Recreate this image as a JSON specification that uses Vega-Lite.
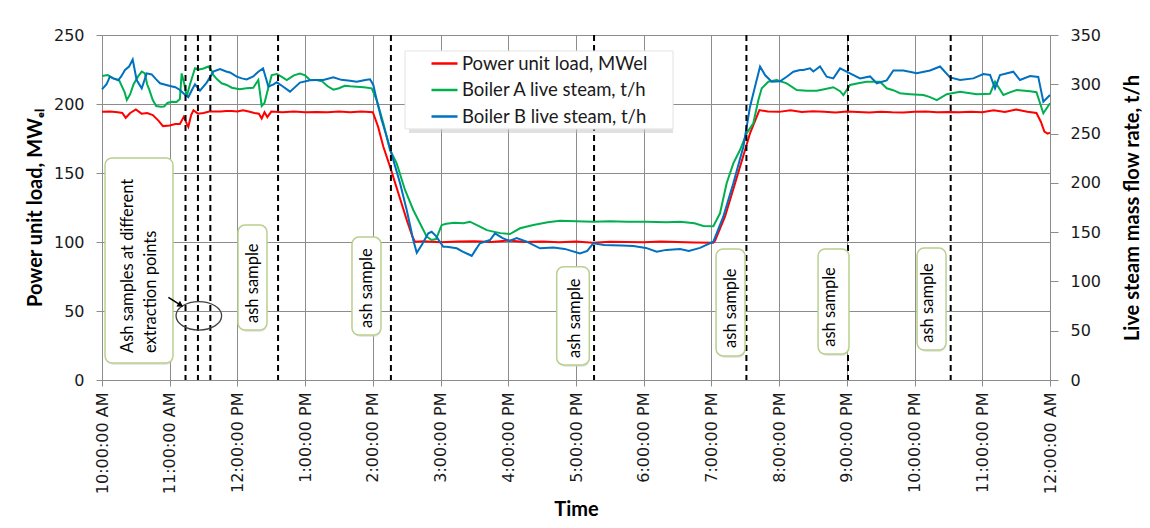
{
"$schema":"https://vega.github.io/schema/vega-lite/v6.json",
"width":948,"height":345,
"autosize":{"type":"none"},
"padding":{"left":102,"top":35,"right":100,"bottom":148},
"background":"white",
"config":{
"view":{"stroke":null},
"axis":{"gridColor":"#8c8c8c","gridWidth":1,"domainColor":"#8c8c8c","tickColor":"#8c8c8c","labelFont":"DejaVu Sans","labelFontSize":16,"labelColor":"#1a1a1a","titleFont":"Lato","titleFontWeight":"bold","titleFontSize":20,"titleColor":"#000000"}
},
"datasets":{
"load":[
{"minute":0,"value":194.4},{"minute":7,"value":194.5},{"minute":14,"value":194},{"minute":18,"value":193.5},{"minute":21,"value":190},{"minute":25,"value":193.5},{"minute":30,"value":196},{"minute":35,"value":193},{"minute":40,"value":193.5},{"minute":45,"value":192},{"minute":50,"value":188},{"minute":54,"value":184},{"minute":60,"value":184.5},{"minute":65,"value":185.5},{"minute":69,"value":185.5},{"minute":71,"value":188.5},{"minute":72.5,"value":190.8},{"minute":75,"value":186},{"minute":76.5,"value":183.5},{"minute":79,"value":192},{"minute":81,"value":195.5},{"minute":85,"value":193},{"minute":90,"value":193.5},{"minute":95,"value":194.5},{"minute":100,"value":194.5},{"minute":105,"value":194.5},{"minute":110,"value":195},{"minute":115,"value":195},{"minute":120,"value":194.5},{"minute":125,"value":195.5},{"minute":130,"value":194.5},{"minute":135,"value":193.5},{"minute":139,"value":193},{"minute":141.5,"value":189.5},{"minute":144,"value":194},{"minute":146.5,"value":190.5},{"minute":150,"value":194.5},{"minute":160,"value":194},{"minute":170,"value":194.5},{"minute":180,"value":194},{"minute":190,"value":194.2},{"minute":200,"value":194},{"minute":210,"value":194.5},{"minute":220,"value":194},{"minute":230,"value":194.5},{"minute":240,"value":194},{"minute":244.6,"value":183.6},{"minute":249.3,"value":169},{"minute":255.2,"value":154.6},{"minute":262.6,"value":135.3},{"minute":270,"value":116},{"minute":275,"value":104},{"minute":277.3,"value":100.2},{"minute":285,"value":100.5},{"minute":300,"value":99.8},{"minute":315,"value":100.3},{"minute":330,"value":100.6},{"minute":345,"value":100},{"minute":360,"value":101},{"minute":375,"value":100},{"minute":390,"value":100.4},{"minute":405,"value":99.8},{"minute":420,"value":100.3},{"minute":435,"value":99.5},{"minute":450,"value":100.2},{"minute":465,"value":100},{"minute":480,"value":99.8},{"minute":495,"value":100.4},{"minute":510,"value":100},{"minute":525,"value":99.7},{"minute":541.7,"value":99.5},{"minute":543.2,"value":101},{"minute":552,"value":118.3},{"minute":560.9,"value":142.5},{"minute":569.8,"value":166.7},{"minute":574.2,"value":178.8},{"minute":582.5,"value":195.6},{"minute":590,"value":194.5},{"minute":600,"value":194.3},{"minute":610,"value":195.5},{"minute":620,"value":194.2},{"minute":630,"value":194.8},{"minute":640,"value":194.4},{"minute":650,"value":193.8},{"minute":660,"value":194.5},{"minute":670,"value":194.2},{"minute":680,"value":193.8},{"minute":690,"value":194.4},{"minute":700,"value":194},{"minute":710,"value":193.9},{"minute":720,"value":194.3},{"minute":730,"value":194.5},{"minute":740,"value":194},{"minute":750,"value":194.2},{"minute":760,"value":194.1},{"minute":770,"value":194.3},{"minute":780,"value":194},{"minute":790,"value":195.5},{"minute":800,"value":194.2},{"minute":810,"value":196},{"minute":820,"value":194.4},{"minute":828,"value":193.5},{"minute":832,"value":187},{"minute":835,"value":180},{"minute":838,"value":178.5},{"minute":840,"value":179.2}
],
"boilerA":[
{"minute":0,"value":308.4},{"minute":5,"value":309.4},{"minute":10,"value":306},{"minute":15,"value":304.5},{"minute":20,"value":292},{"minute":22,"value":284},{"minute":25,"value":290},{"minute":28,"value":300},{"minute":32,"value":308},{"minute":35.2,"value":312.8},{"minute":38,"value":311},{"minute":40,"value":300},{"minute":42,"value":294},{"minute":45,"value":284},{"minute":48,"value":278},{"minute":52,"value":277.3},{"minute":55,"value":277.5},{"minute":58,"value":281},{"minute":62,"value":282.3},{"minute":66,"value":282},{"minute":69,"value":285},{"minute":70.6,"value":311},{"minute":73,"value":300},{"minute":75,"value":287.4},{"minute":78,"value":300},{"minute":82.4,"value":316.2},{"minute":86,"value":315},{"minute":90,"value":316},{"minute":94.2,"value":318},{"minute":97,"value":314},{"minute":98.6,"value":309.4},{"minute":102,"value":305},{"minute":106,"value":301},{"minute":110.5,"value":299.3},{"minute":115,"value":296.5},{"minute":122,"value":295},{"minute":128,"value":296},{"minute":134,"value":296.5},{"minute":138.5,"value":304.3},{"minute":141.5,"value":278},{"minute":144,"value":281},{"minute":145.9,"value":290},{"minute":150.4,"value":309.4},{"minute":155,"value":310.5},{"minute":160,"value":307},{"minute":163.7,"value":304.3},{"minute":170,"value":309},{"minute":175.4,"value":311},{"minute":180,"value":309},{"minute":184.3,"value":304.3},{"minute":190,"value":304.3},{"minute":195,"value":303},{"minute":200,"value":298},{"minute":205,"value":294.5},{"minute":210,"value":296},{"minute":215,"value":298.5},{"minute":219.8,"value":298},{"minute":225.7,"value":297.6},{"minute":232,"value":297},{"minute":239,"value":295.9},{"minute":243.4,"value":284},{"minute":249.3,"value":260.4},{"minute":255.2,"value":233.3},{"minute":261.1,"value":219.8},{"minute":268.5,"value":192.8},{"minute":275.8,"value":172.5},{"minute":283.3,"value":155.5},{"minute":287.7,"value":145.4},{"minute":292.1,"value":142},{"minute":296,"value":143},{"minute":301,"value":157.2},{"minute":305,"value":158.5},{"minute":312,"value":159.5},{"minute":320.2,"value":159},{"minute":326,"value":160.6},{"minute":334.9,"value":155.5},{"minute":341,"value":152},{"minute":346.7,"value":150.5},{"minute":353,"value":149},{"minute":361.5,"value":148.1},{"minute":370.4,"value":153.9},{"minute":382.2,"value":157.2},{"minute":395,"value":160},{"minute":405.8,"value":161.6},{"minute":420,"value":161},{"minute":435.3,"value":160.6},{"minute":450,"value":161},{"minute":465,"value":160.5},{"minute":482.7,"value":160.6},{"minute":500,"value":160},{"minute":512.2,"value":160.6},{"minute":525,"value":159},{"minute":532.8,"value":156.2},{"minute":541.7,"value":156},{"minute":547.6,"value":169.1},{"minute":553.5,"value":199.6},{"minute":559.4,"value":219.8},{"minute":565.3,"value":233.3},{"minute":571.3,"value":250.3},{"minute":577.1,"value":260.4},{"minute":581.6,"value":284},{"minute":584.6,"value":295.9},{"minute":590.4,"value":302.6},{"minute":597.8,"value":304.3},{"minute":606.7,"value":301},{"minute":615.6,"value":294.2},{"minute":624.4,"value":293.5},{"minute":633.3,"value":293.5},{"minute":640,"value":295},{"minute":648,"value":297},{"minute":654,"value":293},{"minute":656.9,"value":289.1},{"minute":662.8,"value":299.3},{"minute":670,"value":301},{"minute":677.6,"value":302.6},{"minute":689.4,"value":302.6},{"minute":695.3,"value":295.9},{"minute":701,"value":294},{"minute":707.1,"value":290.9},{"minute":716,"value":290},{"minute":727.8,"value":289.1},{"minute":733.7,"value":287},{"minute":739.7,"value":284},{"minute":748.5,"value":290},{"minute":760.3,"value":292.5},{"minute":775.1,"value":290},{"minute":786.9,"value":290.5},{"minute":791.3,"value":302.6},{"minute":798.7,"value":289.1},{"minute":805,"value":292},{"minute":810.5,"value":294.2},{"minute":822.3,"value":293},{"minute":828,"value":292},{"minute":834.1,"value":270.6},{"minute":840,"value":280.7}
],
"boilerB":[
{"minute":0,"value":294.9},{"minute":4,"value":300},{"minute":7,"value":307.7},{"minute":10,"value":306},{"minute":14.4,"value":304},{"minute":17,"value":308},{"minute":20.4,"value":314.5},{"minute":24,"value":318},{"minute":27.2,"value":325.2},{"minute":30.7,"value":304.3},{"minute":35.2,"value":295.9},{"minute":39.6,"value":311.1},{"minute":44,"value":310},{"minute":48,"value":305},{"minute":51.4,"value":301},{"minute":60.3,"value":298.3},{"minute":65,"value":297},{"minute":69.1,"value":294.2},{"minute":73,"value":290},{"minute":76.5,"value":286.8},{"minute":80,"value":295},{"minute":82.4,"value":300},{"minute":86.8,"value":293.5},{"minute":92.8,"value":301.7},{"minute":98.6,"value":312.8},{"minute":104.6,"value":315.5},{"minute":110,"value":313},{"minute":113.4,"value":312},{"minute":119.4,"value":307.7},{"minute":124,"value":306},{"minute":128.2,"value":305},{"minute":134,"value":308},{"minute":138.5,"value":312.8},{"minute":142.7,"value":316.2},{"minute":147.4,"value":297.6},{"minute":152,"value":300},{"minute":154.8,"value":302},{"minute":160,"value":298},{"minute":166.6,"value":292.5},{"minute":175.4,"value":301.7},{"minute":184.3,"value":304},{"minute":190.2,"value":304.3},{"minute":196.1,"value":304.3},{"minute":205,"value":307},{"minute":212,"value":304.5},{"minute":219.8,"value":303.5},{"minute":225.7,"value":302.6},{"minute":230,"value":303.5},{"minute":234.6,"value":304.5},{"minute":237.5,"value":305},{"minute":240.4,"value":299.3},{"minute":243.4,"value":284},{"minute":247.8,"value":263.8},{"minute":252.3,"value":246.8},{"minute":258.1,"value":223.2},{"minute":264.1,"value":199.6},{"minute":270,"value":172.5},{"minute":275.8,"value":142},{"minute":278.9,"value":129.1},{"minute":283.3,"value":137},{"minute":289.1,"value":148.8},{"minute":292.1,"value":150.4},{"minute":296,"value":146},{"minute":302.4,"value":135.2},{"minute":305.4,"value":135.2},{"minute":314.3,"value":133.6},{"minute":320,"value":130},{"minute":326.1,"value":126.8},{"minute":327.6,"value":125.8},{"minute":331,"value":132},{"minute":334.9,"value":138.7},{"minute":343.8,"value":142},{"minute":348.2,"value":148.8},{"minute":355,"value":144},{"minute":361,"value":141},{"minute":367.5,"value":144},{"minute":376.3,"value":140.3},{"minute":388.1,"value":133.6},{"minute":400,"value":134.5},{"minute":410,"value":133},{"minute":423.5,"value":128.5},{"minute":430,"value":131},{"minute":435.3,"value":138.7},{"minute":445,"value":137},{"minute":460,"value":136.5},{"minute":470.8,"value":136},{"minute":482,"value":134},{"minute":491.5,"value":130.2},{"minute":500,"value":132},{"minute":512.2,"value":133},{"minute":520,"value":131},{"minute":529.9,"value":134},{"minute":541.7,"value":140.3},{"minute":550.5,"value":165.7},{"minute":559.4,"value":199.6},{"minute":568.3,"value":236.7},{"minute":574.2,"value":277.3},{"minute":578.6,"value":297.6},{"minute":583.1,"value":318},{"minute":587.5,"value":309.4},{"minute":593.4,"value":302.6},{"minute":600.8,"value":303},{"minute":606.7,"value":307.7},{"minute":612.6,"value":312.8},{"minute":618.5,"value":314.5},{"minute":621.4,"value":314.5},{"minute":627.4,"value":316.2},{"minute":630.3,"value":313},{"minute":636.2,"value":318},{"minute":642.1,"value":307.7},{"minute":648,"value":306},{"minute":654,"value":316.2},{"minute":662.8,"value":311.1},{"minute":671.7,"value":306},{"minute":680.5,"value":308},{"minute":686.5,"value":301},{"minute":695.3,"value":304},{"minute":701.2,"value":314},{"minute":710.1,"value":314},{"minute":721.9,"value":311.1},{"minute":733.7,"value":314},{"minute":742.6,"value":318},{"minute":751.4,"value":307},{"minute":760.3,"value":304.3},{"minute":772.1,"value":306},{"minute":780.9,"value":310.4},{"minute":786.9,"value":309.5},{"minute":791.3,"value":295.9},{"minute":795.7,"value":309.4},{"minute":807.5,"value":312.8},{"minute":813.4,"value":304.3},{"minute":822.3,"value":308.4},{"minute":829.6,"value":307.5},{"minute":834.1,"value":282.3},{"minute":840,"value":289.1}
],
"samples":[{"minute":74},{"minute":85},{"minute":96},{"minute":156},{"minute":256},{"minute":436},{"minute":571},{"minute":661},{"minute":752}],
"legendbox":[{"x0":268.5,"x1":506,"y0":254.7,"y1":333.8}],
"notes":[
{"x0":2.7,"x1":62.9,"y0":17.2,"y1":225.3},
{"x0":120.5,"x1":146.2,"y0":50.7,"y1":157.2},
{"x0":221.5,"x1":247.2,"y0":45.6,"y1":145},
{"x0":402.9,"x1":431.8,"y0":15.3,"y1":114.9},
{"x0":544.1,"x1":569.8,"y0":24.4,"y1":132.9},
{"x0":634.5,"x1":661.9,"y0":26.3,"y1":132.9},
{"x0":722.2,"x1":747.9,"y0":30.4,"y1":133.8}
],
"notetext":[
{"minute":23,"level":27.4,"label":"Ash samples  at different"},
{"minute":43.4,"level":27.4,"label":"extraction points"},
{"minute":133.8,"level":57.8,"label":"ash sample"},
{"minute":234.8,"level":52.8,"label":"ash sample"},
{"minute":419.1,"level":22.3,"label":"ash sample"},
{"minute":557.1,"level":32.5,"label":"ash sample"},
{"minute":645.1,"level":33.7,"label":"ash sample"},
{"minute":732.2,"level":37.8,"label":"ash sample"}
],
"ellipse":[{"minute":85.8,"level":65.1}],
"arrow":[{"minute":58.8,"minute2":69.7,"level":83.9,"level2":76}]
},
"layer":[
{"data":{"name":"load"},
"mark":{"type":"line","strokeWidth":2},
"encoding":{
"x":{"field":"minute","type":"quantitative","title":"Time","scale":{"domain":[0,840],"nice":false,"zero":false},
"axis":{"values":[0,60,120,180,240,300,360,420,480,540,600,660,720,780,840],"labelExpr":"timeFormat(datetime(2000, 0, 1, 10, datum.value, 0), '%-I:%M:%S %p')","labelAngle":270,"labelAlign":"right","labelBaseline":"middle","tickSize":6,"labelPadding":6,"titlePadding":6,"grid":true,"labelFlush":false,"labelOverlap":false}},
"y":{"field":"value","type":"quantitative","title":"Power unit load, MWₑₗ","scale":{"domain":[0,250],"nice":false},
"axis":{"orient":"left","values":[0,50,100,150,200,250],"grid":true,"tickSize":6,"labelPadding":12,"titlePadding":8}},
"color":{"datum":"Power unit load, MWel","type":"nominal",
"scale":{"domain":["Power unit load, MWel","Boiler A live steam, t/h","Boiler B live steam, t/h"],"range":["#ff0000","#00b050","#0070c0"]},
"legend":{"title":null,"orient":"none","legendX":328,"legendY":14,"symbolType":"stroke","symbolSize":676,"symbolStrokeWidth":2.5,"labelFont":"Lato","labelFontSize":18.5,"labelColor":"#1a1a1a","labelLimit":0,"rowPadding":2.5,"labelOffset":3,"padding":0}}
}},
{"layer":[
{"data":{"name":"boilerA"},"mark":{"type":"line","strokeWidth":2},
"encoding":{
"x":{"field":"minute","type":"quantitative","title":"Time"},
"y":{"field":"value","type":"quantitative","title":"Live steam mass flow rate, t/h","scale":{"domain":[0,350],"nice":false},
"axis":{"orient":"right","values":[0,50,100,150,200,250,300,350],"grid":false,"tickSize":8,"labelPadding":12,"titlePadding":22,"titleAngle":270,"titleBaseline":"top"}},
"color":{"datum":"Boiler A live steam, t/h","type":"nominal"}}},
{"data":{"name":"boilerB"},"mark":{"type":"line","strokeWidth":2},
"encoding":{
"x":{"field":"minute","type":"quantitative","title":"Time"},
"y":{"field":"value","type":"quantitative","title":"Live steam mass flow rate, t/h","scale":{"domain":[0,350],"nice":false}},
"color":{"datum":"Boiler B live steam, t/h","type":"nominal"}}},
{"data":{"name":"samples"},"mark":{"type":"rule","color":"#000000","strokeWidth":2,"strokeDash":[6,4]},
"encoding":{"x":{"field":"minute","type":"quantitative","title":"Time"}}},
{"data":{"name":"legendbox"},"mark":{"type":"rect","fill":"#bdbdbd","opacity":0.45,"xOffset":4,"yOffset":4},
"encoding":{"x":{"field":"x0","type":"quantitative","title":"Time"},"x2":{"field":"x1"},"y":{"field":"y0","type":"quantitative","title":"Live steam mass flow rate, t/h","scale":{"domain":[0,350],"nice":false}},"y2":{"field":"y1"}}},
{"data":{"name":"legendbox"},"mark":{"type":"rect","fill":"#ffffff","stroke":"#e3e3e3","strokeWidth":1},
"encoding":{"x":{"field":"x0","type":"quantitative","title":"Time"},"x2":{"field":"x1"},"y":{"field":"y0","type":"quantitative","title":"Live steam mass flow rate, t/h","scale":{"domain":[0,350],"nice":false}},"y2":{"field":"y1"}}},
{"data":{"name":"notes"},"mark":{"type":"rect","fill":"#d0d0d0","opacity":0.5,"cornerRadius":7,"xOffset":2,"yOffset":2},
"encoding":{"x":{"field":"x0","type":"quantitative","title":"Time"},"x2":{"field":"x1"},"y":{"field":"y0","type":"quantitative","title":"Live steam mass flow rate, t/h","scale":{"domain":[0,350],"nice":false}},"y2":{"field":"y1"}}},
{"data":{"name":"notes"},"mark":{"type":"rect","fill":"#ffffff","stroke":"#b9d08f","strokeWidth":1.5,"cornerRadius":7},
"encoding":{"x":{"field":"x0","type":"quantitative","title":"Time"},"x2":{"field":"x1"},"y":{"field":"y0","type":"quantitative","title":"Live steam mass flow rate, t/h","scale":{"domain":[0,350],"nice":false}},"y2":{"field":"y1"}}},
{"data":{"name":"notetext"},"mark":{"type":"text","angle":270,"align":"left","baseline":"middle","font":"Lato","fontSize":16.5,"color":"#000000"},
"encoding":{"x":{"field":"minute","type":"quantitative","title":"Time"},"y":{"field":"level","type":"quantitative","title":"Live steam mass flow rate, t/h","scale":{"domain":[0,350],"nice":false}},"text":{"field":"label"}}},
{"data":{"name":"ellipse"},"mark":{"type":"point","shape":"M -1 0 A 1 0.623 0 1 0 1 0 A 1 0.623 0 1 0 -1 0 Z","size":2079,"filled":false,"stroke":"#404040","strokeWidth":1.3,"opacity":1},
"encoding":{"x":{"field":"minute","type":"quantitative","title":"Time"},"y":{"field":"level","type":"quantitative","title":"Live steam mass flow rate, t/h","scale":{"domain":[0,350],"nice":false}}}},
{"data":{"name":"arrow"},"mark":{"type":"rule","color":"#000000","strokeWidth":1.5},
"encoding":{"x":{"field":"minute","type":"quantitative","title":"Time"},"x2":{"field":"minute2"},"y":{"field":"level","type":"quantitative","title":"Live steam mass flow rate, t/h","scale":{"domain":[0,350],"nice":false}},"y2":{"field":"level2"}}},
{"data":{"name":"arrow"},"mark":{"type":"point","shape":"triangle-right","size":45,"filled":true,"color":"#000000","angle":32,"opacity":1},
"encoding":{"x":{"field":"minute2","type":"quantitative","title":"Time"},"y":{"field":"level2","type":"quantitative","title":"Live steam mass flow rate, t/h","scale":{"domain":[0,350],"nice":false}}}}
]}
],
"resolve":{"scale":{"y":"independent"},"axis":{"y":"independent"}}
}
